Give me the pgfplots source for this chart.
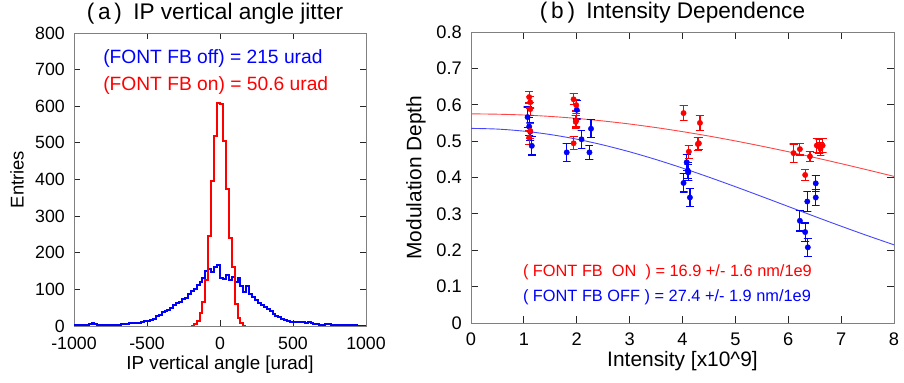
\documentclass[border=0pt]{standalone}
\usepackage{fontspec}
\setmainfont{Liberation Sans}
\usepackage{pgfplots}
\pgfplotsset{compat=1.18}
\newcommand\fs[1]{\fontsize{#1}{#1}\selectfont}
\definecolor{fitred}{RGB}{255,70,70}
\definecolor{fitblue}{RGB}{70,70,255}
\definecolor{barred}{RGB}{255,0,0}
\definecolor{barblue}{RGB}{0,0,255}
\begin{document}
\begin{tikzpicture}
\useasboundingbox (0,0) rectangle (904bp,383bp);
\begin{axis}[
  at={(74bp,57bp)}, anchor=south west, scale only axis,
  width=292bp, height=293bp,
  xmin=-1000, xmax=1000, ymin=0, ymax=800,
  xtick={-1000,-500,0,500,1000}, ytick={0,100,200,300,400,500,600,700,800},
  /pgf/number format/assume math mode=true,
  /pgf/number format/1000 sep={},
  tick label style={font=\fs{17.8}, inner sep=0pt},
  xticklabel style={yshift=-11bp},
  yticklabel style={xshift=-9bp},
  axis line style={gray, line width=0.8bp},
  major tick length=6bp,
  major tick style={draw=black!85, line width=0.8bp},
  xlabel={IP vertical angle [urad]}, ylabel={Entries},
  xlabel style={at={(rel axis cs:0.5,-0.150)}, anchor=base, font=\fs{18.9}, inner sep=0pt},
  ylabel style={at={(rel axis cs:-0.195,0.5)}, anchor=center, font=\fs{18.5}, inner sep=0pt},
]
\addplot[blue, line width=2bp, const plot] coordinates {
(-1000,2)(-980,2)(-960,3)(-940,2)(-920,3)(-900,5)(-880,7)(-860,5)(-840,3)(-820,2)
(-800,2)(-780,2)(-760,3)(-740,4)(-720,4)(-700,4)(-680,5)(-660,5)(-640,6)(-620,7)
(-600,8)(-580,7)(-560,9)(-540,12)(-520,14)(-500,14)(-480,16)(-460,19)(-440,26)(-420,30)
(-400,38)(-380,41)(-360,44)(-340,50)(-320,57)(-300,62)(-280,66)(-260,74)(-240,76)(-220,88)
(-200,95)(-180,100)(-160,112)(-140,120)(-120,130)(-100,150)(-80,155)(-60,148)(-40,162)(-20,167)
(0,130)(20,128)(40,138)(60,125)(80,135)(100,120)(120,132)(140,110)(160,92)(180,108)
(200,88)(220,80)(240,72)(260,64)(280,58)(300,52)(320,46)(340,40)(360,34)(380,28)
(400,24)(420,20)(440,16)(460,14)(480,12)(500,12)(520,11)(540,10)(560,12)(580,9)
(600,11)(620,8)(640,6)(660,5)(680,4)(700,4)(720,5)(740,6)(760,3)(780,3)
(800,3)(820,4)(840,3)(860,2)(880,3)(900,2)(920,2)(940,1)(960,1)(980,1)(1000,1)
};
\addplot[red, line width=2bp, const plot] coordinates {
(-200,0)(-180,5)(-160,15)(-140,35)(-120,65)(-100,125)(-80,245)(-60,395)(-40,520)(-20,610)
(0,605)(20,505)(40,375)(60,240)(80,160)(100,60)(120,22)(140,8)(160,0)(180,0)
};
\node[anchor=base west, text=blue, font=\fs{19.3}, inner sep=0pt] at (axis cs:-801,718) {(FONT FB off) = 215 urad};
\node[anchor=base west, text=red, font=\fs{19.3}, inner sep=0pt] at (axis cs:-801,642) {(FONT FB on) = 50.6 urad};
\end{axis}

\begin{axis}[
  at={(471bp,60bp)}, anchor=south west, scale only axis,
  width=423bp, height=291bp,
  xmin=0, xmax=8, ymin=0, ymax=0.8,
  xtick={0,1,2,3,4,5,6,7,8}, ytick={0,0.1,0.2,0.3,0.4,0.5,0.6,0.7,0.8},
  /pgf/number format/assume math mode=true,
  yticklabel style={/pgf/number format/fixed, /pgf/number format/precision=1},
  tick label style={font=\fs{18.3}, inner sep=0pt},
  xticklabel style={yshift=-10bp},
  yticklabel style={xshift=-9bp},
  axis line style={gray, line width=0.8bp},
  major tick length=7bp,
  major tick style={draw=black!85, line width=0.8bp},
  xlabel={Intensity [x10\textasciicircum 9]}, ylabel={Modulation Depth},
  xlabel style={at={(rel axis cs:0.5,-0.150)}, anchor=base, font=\fs{21}, inner sep=0pt},
  ylabel style={at={(rel axis cs:-0.130,0.5)}, anchor=center, font=\fs{21}, inner sep=0pt},
  unbounded coords=jump,
]
\addplot[fitred, line width=0.9bp, smooth, no marks] coordinates {
(0,0.575)(0.5,0.574)(1,0.5718)(1.5,0.5679)(2,0.5624)(2.5,0.5554)(3,0.5470)(3.5,0.5372)(4,0.5261)
(4.5,0.5139)(5,0.5005)(5.5,0.4861)(6,0.4709)(6.5,0.4548)(7,0.4381)(7.5,0.4208)(8,0.4031)
};
\addplot[fitblue, line width=0.9bp, smooth, no marks] coordinates {
(0,0.535)(0.5,0.5331)(1,0.5274)(1.5,0.5181)(2,0.5054)(2.5,0.4894)(3,0.4706)(3.5,0.4493)(4,0.4259)
(4.5,0.4009)(5,0.3747)(5.5,0.3477)(6,0.3203)(6.5,0.2930)(7,0.2661)(7.5,0.2400)(8,0.2149)
};
% blue error bars
\addplot[draw=barblue, line width=1.2bp, no marks] coordinates {
(0.995,0.538)(1.145,0.538)(1.07,0.538)(1.07,0.594)(0.995,0.594)(1.145,0.594)(1.07,nan)
(1.025,0.515)(1.175,0.515)(1.10,0.515)(1.10,0.565)(1.025,0.565)(1.175,0.565)(1.10,nan)
(1.045,0.501)(1.195,0.501)(1.12,0.501)(1.12,0.551)(1.045,0.551)(1.195,0.551)(1.12,nan)
(1.075,0.462)(1.225,0.462)(1.15,0.462)(1.15,0.512)(1.075,0.512)(1.225,0.512)(1.15,nan)
(1.735,0.444)(1.885,0.444)(1.81,0.444)(1.81,0.494)(1.735,0.494)(1.885,0.494)(1.81,nan)
(1.925,0.561)(2.075,0.561)(2.00,0.561)(2.00,0.611)(1.925,0.611)(2.075,0.611)(2.00,nan)
(2.015,0.480)(2.165,0.480)(2.09,0.480)(2.09,0.530)(2.015,0.530)(2.165,0.530)(2.09,nan)
(2.165,0.449)(2.315,0.449)(2.24,0.449)(2.24,0.489)(2.165,0.489)(2.315,0.489)(2.24,nan)
(2.195,0.509)(2.345,0.509)(2.27,0.509)(2.27,0.559)(2.195,0.559)(2.345,0.559)(2.27,nan)
(3.945,0.360)(4.095,0.360)(4.02,0.360)(4.02,0.410)(3.945,0.410)(4.095,0.410)(4.02,nan)
(4.005,0.420)(4.155,0.420)(4.08,0.420)(4.08,0.464)(4.005,0.464)(4.155,0.464)(4.08,nan)
(4.025,0.397)(4.175,0.397)(4.10,0.397)(4.10,0.441)(4.025,0.441)(4.175,0.441)(4.10,nan)
(4.035,0.392)(4.185,0.392)(4.11,0.392)(4.11,0.436)(4.035,0.436)(4.185,0.436)(4.11,nan)
(4.065,0.320)(4.215,0.320)(4.14,0.320)(4.14,0.370)(4.065,0.370)(4.215,0.370)(4.14,nan)
(6.145,0.253)(6.295,0.253)(6.22,0.253)(6.22,0.309)(6.145,0.309)(6.295,0.309)(6.22,nan)
(6.245,0.225)(6.395,0.225)(6.32,0.225)(6.32,0.275)(6.245,0.275)(6.395,0.275)(6.32,nan)
(6.285,0.307)(6.435,0.307)(6.36,0.307)(6.36,0.361)(6.285,0.361)(6.435,0.361)(6.36,nan)
(6.295,0.183)(6.445,0.183)(6.37,0.183)(6.37,0.233)(6.295,0.233)(6.445,0.233)(6.37,nan)
(6.445,0.362)(6.595,0.362)(6.52,0.362)(6.52,0.406)(6.445,0.406)(6.595,0.406)(6.52,nan)
(6.445,0.323)(6.595,0.323)(6.52,0.323)(6.52,0.367)(6.445,0.367)(6.595,0.367)(6.52,nan)
};
\addplot[only marks, mark=*, mark size=2.7bp, color=blue] coordinates {
(1.07,0.566)(1.10,0.540)(1.12,0.526)(1.15,0.487)(1.81,0.469)(2.00,0.586)(2.09,0.505)
(2.24,0.469)(2.27,0.534)(4.02,0.385)(4.08,0.442)(4.10,0.419)(4.11,0.414)(4.14,0.345)
(6.22,0.281)(6.32,0.250)(6.36,0.334)(6.37,0.208)(6.52,0.384)(6.52,0.345)
};
% red error bars
\addplot[draw=barred, line width=1.2bp, no marks] coordinates {
(1.025,0.605)(1.175,0.605)(1.10,0.605)(1.10,0.637)(1.025,0.637)(1.175,0.637)(1.10,nan)
(1.045,0.591)(1.195,0.591)(1.12,0.591)(1.12,0.623)(1.045,0.623)(1.195,0.623)(1.12,nan)
(1.045,0.570)(1.195,0.570)(1.12,0.570)(1.12,0.606)(1.045,0.606)(1.195,0.606)(1.12,nan)
(1.045,0.508)(1.195,0.508)(1.12,0.508)(1.12,0.548)(1.045,0.548)(1.195,0.548)(1.12,nan)
(1.025,0.490)(1.175,0.490)(1.10,0.490)(1.10,0.530)(1.025,0.530)(1.175,0.530)(1.10,nan)
(1.865,0.600)(2.015,0.600)(1.94,0.600)(1.94,0.630)(1.865,0.630)(2.015,0.630)(1.94,nan)
(1.915,0.583)(2.065,0.583)(1.99,0.583)(1.99,0.615)(1.915,0.615)(2.065,0.615)(1.99,nan)
(1.915,0.539)(2.065,0.539)(1.99,0.539)(1.99,0.575)(1.915,0.575)(2.065,0.575)(1.99,nan)
(1.905,0.535)(2.055,0.535)(1.98,0.535)(1.98,0.571)(1.905,0.571)(2.055,0.571)(1.98,nan)
(1.865,0.476)(2.015,0.476)(1.94,0.476)(1.94,0.512)(1.865,0.512)(2.015,0.512)(1.94,nan)
(3.945,0.557)(4.095,0.557)(4.02,0.557)(4.02,0.597)(3.945,0.597)(4.095,0.597)(4.02,nan)
(4.045,0.453)(4.195,0.453)(4.12,0.453)(4.12,0.489)(4.045,0.489)(4.195,0.489)(4.12,nan)
(4.215,0.474)(4.365,0.474)(4.29,0.474)(4.29,0.510)(4.215,0.510)(4.365,0.510)(4.29,nan)
(4.235,0.477)(4.385,0.477)(4.31,0.477)(4.31,0.511)(4.235,0.511)(4.385,0.511)(4.31,nan)
(4.255,0.530)(4.405,0.530)(4.33,0.530)(4.33,0.570)(4.255,0.570)(4.405,0.570)(4.33,nan)
(6.025,0.442)(6.175,0.442)(6.10,0.442)(6.10,0.492)(6.025,0.492)(6.175,0.492)(6.10,nan)
(6.145,0.462)(6.295,0.462)(6.22,0.462)(6.22,0.494)(6.145,0.494)(6.295,0.494)(6.22,nan)
(6.245,0.391)(6.395,0.391)(6.32,0.391)(6.32,0.423)(6.245,0.423)(6.395,0.423)(6.32,nan)
(6.335,0.444)(6.485,0.444)(6.41,0.444)(6.41,0.472)(6.335,0.472)(6.485,0.472)(6.41,nan)
(6.465,0.468)(6.615,0.468)(6.54,0.468)(6.54,0.508)(6.465,0.508)(6.615,0.508)(6.54,nan)
(6.515,0.465)(6.665,0.465)(6.59,0.465)(6.59,0.505)(6.515,0.505)(6.665,0.505)(6.59,nan)
(6.535,0.461)(6.685,0.461)(6.61,0.461)(6.61,0.497)(6.535,0.497)(6.685,0.497)(6.61,nan)
(6.575,0.468)(6.725,0.468)(6.65,0.468)(6.65,0.508)(6.575,0.508)(6.725,0.508)(6.65,nan)
};
\addplot[only marks, mark=*, mark size=2.7bp, color=red] coordinates {
(1.10,0.621)(1.12,0.607)(1.12,0.588)(1.12,0.528)(1.10,0.510)(1.94,0.615)(1.99,0.599)
(1.99,0.557)(1.98,0.553)(1.94,0.494)(4.02,0.577)(4.12,0.471)(4.29,0.492)(4.31,0.494)
(4.33,0.550)(6.10,0.467)(6.22,0.478)(6.32,0.407)(6.41,0.458)(6.54,0.488)(6.59,0.485)
(6.61,0.479)(6.65,0.488)
};
\node[anchor=base west, text=red, font=\fs{16.4}, inner sep=0pt] at (axis cs:0.98,0.129) {( FONT FB\ \ ON\ \ ) = 16.9 +/- 1.6 nm/1e9};
\node[anchor=base west, text=blue, font=\fs{16.4}, inner sep=0pt] at (axis cs:0.98,0.058) {( FONT FB OFF ) = 27.4 +/- 1.9 nm/1e9};
\end{axis}
\node[anchor=base, font=\fs{22.7}, inner sep=0pt] at (215bp,363.7bp) {(\,a\,)\hspace{0.5em}IP vertical angle jitter};
\node[anchor=base, font=\fs{22.7}, inner sep=0pt] at (672.5bp,364.7bp) {(\,b\,)\hspace{0.5em}Intensity Dependence};
\end{tikzpicture}
\end{document}
